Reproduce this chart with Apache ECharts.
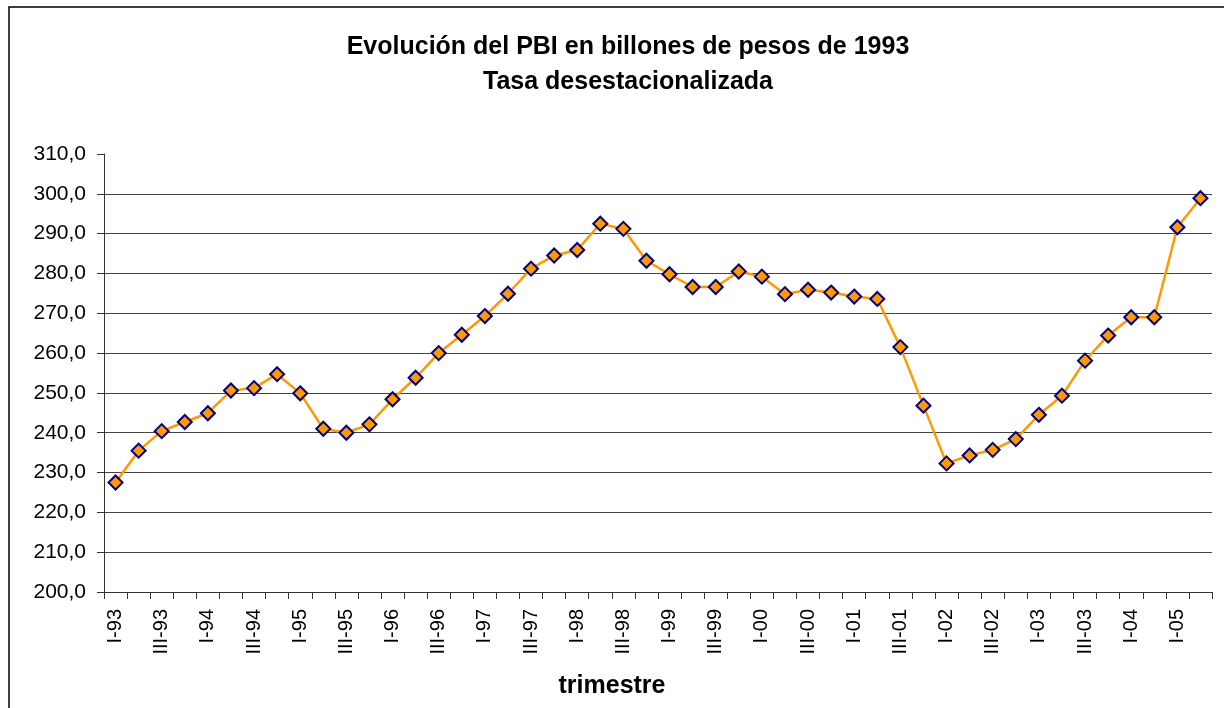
<!DOCTYPE html>
<html>
<head>
<meta charset="utf-8">
<script src="https://cdn.jsdelivr.net/npm/echarts@6/dist/echarts.min.js"></script>
<style>
  html, body { margin: 0; padding: 0; background: #fff; }
  #chart { width: 1224px; height: 708px; }
</style>
</head>
<body>
<div id="chart"></div>
<script>
// trimestres (III-04 y IV-04 no aparecen en la serie original)
var categories = [
  'I-93', 'II-93', 'III-93', 'IV-93',
  'I-94', 'II-94', 'III-94', 'IV-94',
  'I-95', 'II-95', 'III-95', 'IV-95',
  'I-96', 'II-96', 'III-96', 'IV-96',
  'I-97', 'II-97', 'III-97', 'IV-97',
  'I-98', 'II-98', 'III-98', 'IV-98',
  'I-99', 'II-99', 'III-99', 'IV-99',
  'I-00', 'II-00', 'III-00', 'IV-00',
  'I-01', 'II-01', 'III-01', 'IV-01',
  'I-02', 'II-02', 'III-02', 'IV-02',
  'I-03', 'II-03', 'III-03', 'IV-03',
  'I-04', 'II-04', 'I-05', 'II-05'
]
// PBI desestacionalizado (billones de pesos de 1993)
var pbi = [
  227.5, 235.5, 240.4, 242.7,
  244.9, 250.6, 251.2, 254.7,
  249.9, 241.0, 240.0, 242.1,
  248.4, 253.8, 260.0, 264.6,
  269.3, 274.9, 281.2, 284.5,
  285.9, 292.5, 291.2, 283.2,
  279.8, 276.6, 276.6, 280.5,
  279.2, 274.8, 275.9, 275.2,
  274.2, 273.6, 261.5, 246.8,
  232.3, 234.3, 235.7, 238.4,
  244.5, 249.3, 258.1, 264.4,
  269.0, 269.0, 291.6, 298.9
]
var yMin = 200
var yMax = 310
var yStep = 10

var font = '"Liberation Sans", Arial, sans-serif'

var chart = echarts.init(document.getElementById('chart'))
chart.setOption({
  animation: false,
  backgroundColor: '#fff',
  title: {
    text: 'Evolución del PBI en billones de pesos de 1993\nTasa desestacionalizada',
    left: 623,
    textAlign: 'center',
    top: 25,
    textStyle: {
      fontFamily: font,
      fontSize: 25,
      fontWeight: 'bold',
      color: '#000',
      lineHeight: 35
    }
  },
  graphic: [{
    type: 'rect',
    shape: { x: 9, y: 7, width: 1400, height: 900 },
    style: { fill: 'none', stroke: '#000', lineWidth: 1.5 },
    z: -1
  }, {
    // título del eje x, centrado sobre el área del gráfico como en Excel
    type: 'text',
    left: 'center',
    top: 674,
    style: {
      text: 'trimestre',
      fontFamily: font,
      fontSize: 25,
      fontWeight: 'bold',
      fill: '#000'
    }
  }],
  grid: {
    left: 104,
    right: 12,
    top: 154,
    bottom: 116
  },
  xAxis: {
    type: 'category',
    data: categories,
    boundaryGap: true,
    axisLine: { lineStyle: { color: '#333', width: 1 } },
    axisTick: {
      show: true,
      interval: 0,
      alignWithLabel: false,
      length: 7,
      lineStyle: { color: '#333' }
    },
    axisLabel: {
      interval: 1,
      rotate: 90,
      margin: 17,
      fontFamily: font,
      fontSize: 20,
      color: '#000'
    },
    splitLine: { show: false }
  },
  yAxis: {
    type: 'value',
    min: yMin,
    max: yMax,
    interval: yStep,
    axisLine: { show: true, lineStyle: { color: '#333', width: 1 } },
    axisTick: { show: true, length: 7, lineStyle: { color: '#333' } },
    axisLabel: {
      margin: 18,
      fontFamily: font,
      fontSize: 21,
      color: '#000',
      formatter: function (v) {
        return v.toFixed(1).replace('.', ',')
      }
    },
    splitLine: {
      show: true,
      showMaxLine: false,
      lineStyle: { color: '#444', width: 1, type: 'solid' }
    }
  },
  series: [{
    type: 'line',
    data: pbi,
    symbol: 'diamond',
    symbolSize: 14,
    lineStyle: { color: '#FF9900', width: 2.5 },
    itemStyle: {
      color: '#FF9900',
      borderColor: '#000080',
      borderWidth: 2
    }
  }]
})
</script>
</body>
</html>
